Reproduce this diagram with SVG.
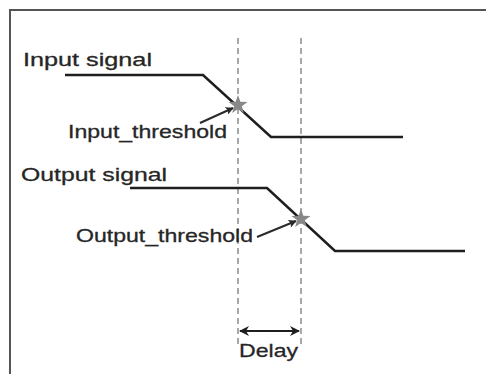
<svg xmlns="http://www.w3.org/2000/svg" width="486" height="374" viewBox="0 0 486 374">
<style>
.lbl{font-family:"Liberation Sans",Arial,sans-serif;font-size:19px;fill:#262626;stroke:#262626;stroke-width:0.3}
.sig{fill:none;stroke:#1e1e1e;stroke-width:2.5;stroke-linejoin:miter}
.guide{stroke:#a8a8a8;stroke-width:2;stroke-dasharray:6 4;fill:none}
.ptr{stroke:#2a2a2a;stroke-width:2;fill:none}
.star{fill:#888}
</style>
<defs>
<marker id="ah" viewBox="0 0 10 10" refX="9" refY="5" markerWidth="9" markerHeight="8" orient="auto-start-reverse" markerUnits="userSpaceOnUse">
<path d="M0,0 L10,5 L0,10 L2,5 z" fill="#2a2a2a"/>
</marker>
<marker id="dh" viewBox="0 0 10 10" refX="9" refY="5" markerWidth="10" markerHeight="10" orient="auto-start-reverse" markerUnits="userSpaceOnUse">
<path d="M0,0 L10,5 L0,10 L3,5 z" fill="#1e1e1e"/>
</marker>
<path id="starshape" d="M0,-10 L2.4,-3.2 L9.5,-3.1 L3.8,1.2 L5.9,8.1 L0,4 L-5.9,8.1 L-3.8,1.2 L-9.5,-3.1 L-2.4,-3.2 z"/>
</defs>
<rect width="486" height="374" fill="#fff"/>
<g id="frame">
<path d="M10,374 L10,10 L486,10" fill="none" stroke="#555" stroke-width="2"/>
</g>
<g id="guides">
<line class="guide" x1="238" y1="38" x2="238" y2="345"/>
<line class="guide" x1="301" y1="38" x2="301" y2="345"/>
</g>
<g id="input-signal">
<text class="lbl" x="23" y="66" textLength="129" lengthAdjust="spacingAndGlyphs">Input signal</text>
<polyline class="sig" points="65,75 203,75 271,137 403,137"/>
</g>
<g id="output-signal">
<text class="lbl" x="21" y="181" textLength="146" lengthAdjust="spacingAndGlyphs">Output signal</text>
<polyline class="sig" points="130,188 267,188 335,251 465,251"/>
</g>
<g id="input-threshold">
<use href="#starshape" class="star" x="238" y="105"/>
<text class="lbl" x="68" y="138" textLength="159" lengthAdjust="spacingAndGlyphs">Input_threshold</text>
</g>
<g id="output-threshold">
<use href="#starshape" class="star" x="301" y="219"/>
<text class="lbl" x="76" y="242" textLength="177" lengthAdjust="spacingAndGlyphs">Output_threshold</text>
</g>
<g id="delay">
<text class="lbl" x="239" y="357" textLength="59" lengthAdjust="spacingAndGlyphs">Delay</text>
</g>
<g id="connectors">
<line class="ptr" x1="200" y1="123" x2="233" y2="108" marker-end="url(#ah)"/>
<line class="ptr" x1="257" y1="237" x2="296" y2="221" marker-end="url(#ah)"/>
<line x1="240" y1="331" x2="299" y2="331" stroke="#1e1e1e" stroke-width="2.2" marker-start="url(#dh)" marker-end="url(#dh)"/>
</g>
</svg>
